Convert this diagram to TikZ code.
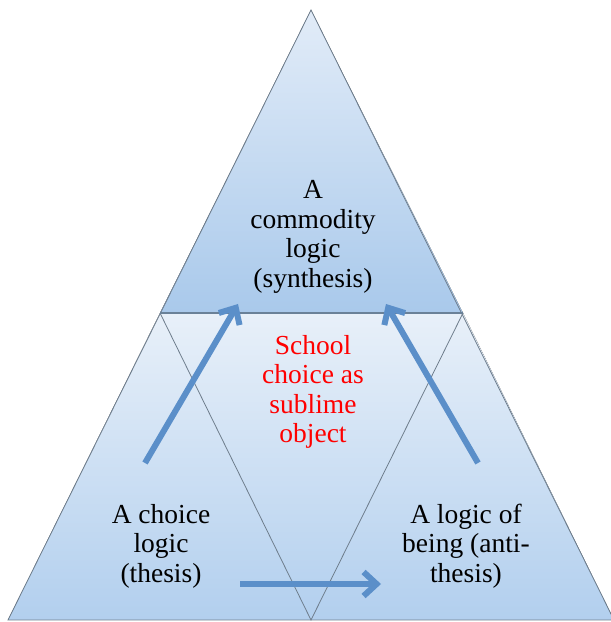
\documentclass[tikz,border=0pt]{standalone}
\usepackage{fontspec}
\setmainfont{Liberation Serif}
\usetikzlibrary{arrows.meta}
\definecolor{edgegrey}{HTML}{6E7D8C}
\definecolor{topblue}{HTML}{E2ECF8}
\definecolor{midblue}{HTML}{A9C9EB}
\definecolor{lowblue}{HTML}{B2CFEE}
\definecolor{paleblue}{HTML}{E8F0F9}
\definecolor{arrowblue}{HTML}{5B8FC9}
\begin{document}
\begin{tikzpicture}[x=1pt,y=1pt,
  label/.style={align=center, font=\fontsize{27.5}{29.5}\selectfont},
  move/.style={draw=arrowblue, line width=6pt, -{Straight Barb[length=13pt,width=24pt,line width=6pt]}}]
\useasboundingbox (0,0) rectangle (611,622);
% corners
\coordinate (apex) at (311,612);
\coordinate (bl) at (8,2);
\coordinate (br) at (614,2);
\coordinate (tl) at (160,309);
\coordinate (tr) at (463,309);
\coordinate (mid) at (311,2);
% lower part and top triangle
\fill [top color=paleblue, bottom color=lowblue] (bl) -- (br) -- (tr) -- (tl) -- cycle;
\fill [top color=topblue, bottom color=midblue] (apex) -- (tr) -- (tl) -- cycle;
\draw [edgegrey, line width=0.8pt] (apex) -- (bl) -- (br) -- cycle;
\draw [edgegrey, line width=0.8pt] (tl) -- (mid) -- (tr);
\draw [edgegrey!80!arrowblue, line width=1.5pt] (tl) -- (tr);
% texts
\node [label] (synthesis) at (313,385) {A\\commodity\\logic\\(synthesis)};
\node [label, text=red] (sublime) at (313,230) {School\\choice as\\sublime\\object};
\node [label] (thesis) at (161,76) {A choice\\logic\\(thesis)};
\node [label] (antithesis) at (466,76) {A logic of\\being (anti-\\thesis)};
% arrows
\coordinate (l1) at (145,159);
\coordinate (l2) at (238,318);
\coordinate (r1) at (478,159);
\coordinate (r2) at (386,318);
\coordinate (b1) at (240,38);
\coordinate (b2) at (381,38);
\draw [move] (l1) -- (l2);
\draw [move] (r1) -- (r2);
\draw [move] (b1) -- (b2);
\end{tikzpicture}
\end{document}
